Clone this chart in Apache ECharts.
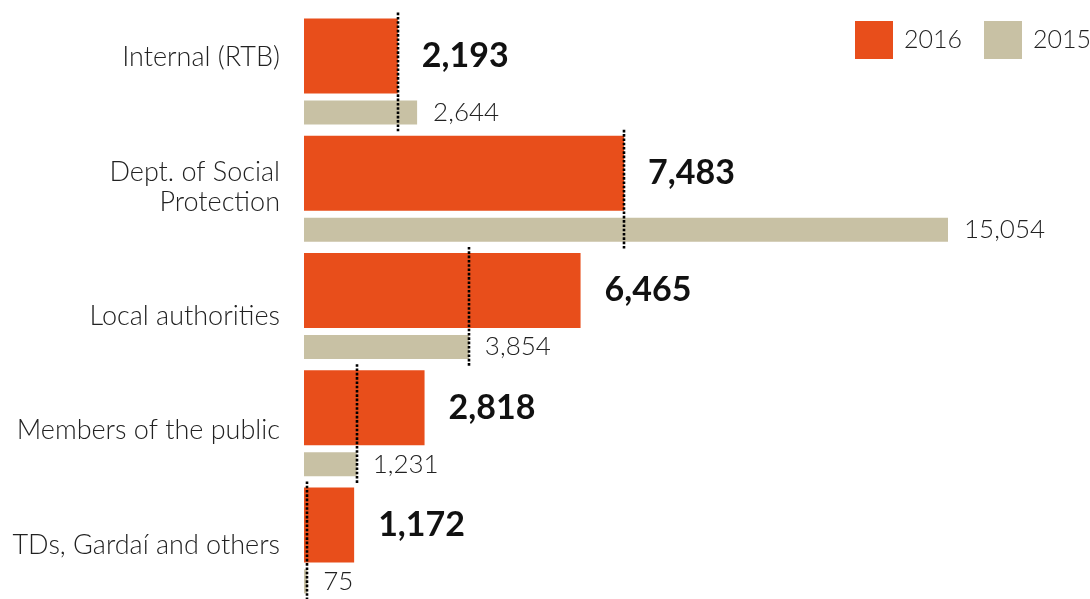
<!DOCTYPE html>
<html>
<head>
<meta charset="utf-8">
<script src="https://cdn.jsdelivr.net/npm/echarts@6/dist/echarts.min.js"></script>
<style>
  html, body { margin: 0; padding: 0; background: #fff; }
  #chart { width: 1090px; height: 599px; }
</style>
</head>
<body>
<div id="chart"></div>
<script>
// ---- data ----
const categories = [
  'Internal (RTB)',
  'Dept. of Social\nProtection',
  'Local authorities',
  'Members of the public',
  'TDs, Gardaí and others'
];
const values2016 = [2193, 7483, 6465, 2818, 1172];
const values2015 = [2644, 15054, 3854, 1231, 75];
const seriesNames = ['2016', '2015'];

// ---- styling ----
const FONT = "'Source Sans Pro', Lato, 'Open Sans', sans-serif";
const ORANGE = '#E84E1B';
const BEIGE = '#C8C1A4';
const TEXT = '#222';

function fmt(v) { return String(v).replace(/\B(?=(\d{3})+(?!\d))/g, ','); }

const dotData = categories.map((c, i) => [Math.min(values2016[i], values2015[i]), i]);
const maxVal = Math.max(...values2016, ...values2015);

const labelBase = { fontFamily: FONT, fontSize: 27, fontWeight: 300, color: TEXT, lineHeight: 34 };

const chart = echarts.init(document.getElementById('chart'), null, { renderer: 'canvas' });
chart.setOption({
  animation: false,
  backgroundColor: '#fff',
  legend: {
    data: seriesNames,
    orient: 'horizontal',
    left: 855,
    top: 21,
    width: 500,
    padding: 0,
    itemWidth: 38,
    itemHeight: 38,
    itemGap: 22,
    icon: 'rect',
    textStyle: { fontFamily: FONT, fontSize: 25, fontWeight: 300, color: TEXT, padding: [0, 0, 0, 6] }
  },
  grid: { left: 304, top: 13, width: 644, height: 593 },
  xAxis: {
    type: 'value', min: 0, max: maxVal, show: false,
    splitLine: { show: false }
  },
  yAxis: {
    type: 'category',
    inverse: true,
    data: categories,
    axisLine: { show: false },
    axisTick: { show: false },
    splitLine: { show: false },
    axisLabel: {
      margin: 24,
      align: 'right',
      fontFamily: FONT, fontSize: 27, fontWeight: 300, color: TEXT, lineHeight: 34,
      formatter: function (value, index) {
        const lines = value.split('\n');
        return lines.map((l, j) => '{c' + index + (j === lines.length - 1 && lines.length > 1 ? 'b' : '') + '|' + l + '}').join('\n');
      },
      rich: {
        c0: Object.assign({}, labelBase, { padding: [0, 0, 28, 0] }),
        c1: Object.assign({}, labelBase),
        c1b: Object.assign({}, labelBase, { padding: [0, 0, 8, 0] }),
        c2: Object.assign({}, labelBase, { padding: [20, 0, 0, 0] }),
        c3: Object.assign({}, labelBase, { padding: [14, 0, 0, 0] }),
        c4: Object.assign({}, labelBase, { padding: [10, 0, 0, 0] })
      }
    }
  },
  series: [
    {
      name: seriesNames[0],
      type: 'bar',
      data: values2016,
      barWidth: 75,
      barGap: '9.33%',
      itemStyle: { color: ORANGE },
      label: {
        show: true, position: 'right', distance: 24,
        fontFamily: FONT, fontSize: 34, fontWeight: 'bold', color: '#111',
        formatter: p => fmt(p.value)
      }
    },
    {
      name: seriesNames[1],
      type: 'bar',
      data: values2015,
      barWidth: 24,
      itemStyle: { color: BEIGE },
      label: {
        show: true, position: 'right', distance: 16,
        fontFamily: FONT, fontSize: 26, fontWeight: 300, color: TEXT,
        formatter: p => fmt(p.value)
      }
    },
    {
      type: 'custom',
      data: dotData,
      encode: { x: 0, y: 1 },
      silent: true,
      z: 5,
      renderItem: function (params, api) {
        const p = api.coord([api.value(0), api.value(1)]);
        const x = Math.round(p[0]);
        return {
          type: 'line',
          shape: { x1: x, y1: p[1] - 59, x2: x, y2: p[1] + 60 },
          style: { stroke: '#000', lineWidth: 2.6, lineDash: [2.6, 1.7] }
        };
      }
    }
  ]
});
</script>
</body>
</html>
